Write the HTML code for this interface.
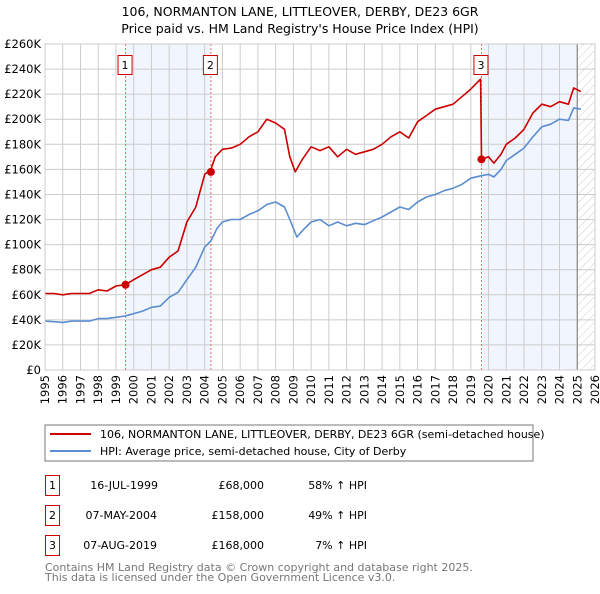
<!DOCTYPE html>
<html><head><meta charset="utf-8"><style>
body{margin:0;background:#fff;font-family:"DejaVu Sans","Liberation Sans",sans-serif;}
svg text{font-family:"DejaVu Sans","Liberation Sans",sans-serif;}
</style></head><body>
<svg id="c" width="600" height="590" xmlns="http://www.w3.org/2000/svg">
<defs><pattern id="hatch" width="6" height="6" patternUnits="userSpaceOnUse" patternTransform="rotate(45)"><line x1="0" y1="0" x2="0" y2="6" stroke="#ccc" stroke-width="1"/></pattern></defs>
<text x="300" y="16" text-anchor="middle" font-size="12.5">106, NORMANTON LANE, LITTLEOVER, DERBY, DE23 6GR</text>
<text x="300" y="33" text-anchor="middle" font-size="12.5">Price paid vs. HM Land Registry's House Price Index (HPI)</text>
<g id="plot"></g>
<rect x="45" y="425" width="488" height="36" fill="#fff" stroke="#777"/>
<line x1="50" y1="434" x2="91" y2="434" stroke="#cc0000" stroke-width="2"/>
<text x="100" y="438" font-size="11">106, NORMANTON LANE, LITTLEOVER, DERBY, DE23 6GR (semi-detached house)</text>
<line x1="50" y1="451" x2="91" y2="451" stroke="#5b8dd0" stroke-width="2"/>
<text x="100" y="455" font-size="11">HPI: Average price, semi-detached house, City of Derby</text>
<g font-size="11">
<rect x="45.5" y="475.5" width="14" height="20" fill="#fff" stroke="#cc0000"/><text x="52.5" y="489" text-anchor="middle">1</text>
<text x="158" y="489" text-anchor="end">16-JUL-1999</text>
<text x="264" y="489" text-anchor="end">£68,000</text>
<text x="367" y="489" text-anchor="end">58% ↑ HPI</text>
<rect x="45.5" y="505.5" width="14" height="20" fill="#fff" stroke="#cc0000"/><text x="52.5" y="519" text-anchor="middle">2</text>
<text x="157" y="519" text-anchor="end">07-MAY-2004</text>
<text x="264" y="519" text-anchor="end">£158,000</text>
<text x="367" y="519" text-anchor="end">49% ↑ HPI</text>
<rect x="45.5" y="535.5" width="14" height="20" fill="#fff" stroke="#cc0000"/><text x="52.5" y="549" text-anchor="middle">3</text>
<text x="157" y="549" text-anchor="end">07-AUG-2019</text>
<text x="264" y="549" text-anchor="end">£168,000</text>
<text x="367" y="549" text-anchor="end">7% ↑ HPI</text>
</g>
<text x="45" y="571" font-size="11" fill="#777">Contains HM Land Registry data © Crown copyright and database right 2025.</text>
<text x="45" y="581" font-size="11" fill="#777">This data is licensed under the Open Government Licence v3.0.</text>
</svg>
<script>
const yTicks=[0,20,40,60,80,100,120,140,160,180,200,220,240,260];
const xYears=[1995,1996,1997,1998,1999,2000,2001,2002,2003,2004,2005,2006,2007,2008,2009,2010,2011,2012,2013,2014,2015,2016,2017,2018,2019,2020,2021,2022,2023,2024,2025,2026];
const hpiDates=[1995,1995.5,1996,1996.5,1997,1997.5,1998,1998.5,1999,1999.5,2000,2000.5,2001,2001.5,2002,2002.5,2003,2003.5,2004,2004.35,2004.7,2005,2005.5,2006,2006.5,2007,2007.5,2008,2008.5,2008.8,2009.2,2009.5,2010,2010.5,2011,2011.5,2012,2012.5,2013,2013.5,2014,2014.5,2015,2015.5,2016,2016.5,2017,2017.5,2018,2018.5,2019,2019.6,2020,2020.3,2020.7,2021,2021.5,2022,2022.5,2023,2023.5,2024,2024.5,2024.8,2025.2];
const hpiValues=[39,38.5,38,39,39,39,41,41,42,43,45,47,50,51,58,62,72,82,98,103,113,118,120,120,124,127,132,134,130,120,106,111,118,120,115,118,115,117,116,119,122,126,130,128,134,138,140,143,145,148,153,155,156,154,160,167,172,177,186,194,196,200,199,209,208];
const redDates=[1995,1995.5,1996,1996.5,1997,1997.5,1998,1998.5,1999,1999.54,2000,2000.5,2001,2001.5,2002,2002.5,2003,2003.5,2004,2004.35,2004.6,2005,2005.5,2006,2006.5,2007,2007.5,2008,2008.5,2008.8,2009.1,2009.5,2010,2010.5,2011,2011.5,2012,2012.5,2013,2013.5,2014,2014.5,2015,2015.5,2016,2016.5,2017,2017.5,2018,2018.5,2019,2019.55,2019.6,2020,2020.3,2020.7,2021,2021.5,2022,2022.5,2023,2023.5,2024,2024.5,2024.8,2025.2];
const redValues=[61,61,60,61,61,61,64,63,67,68,72,76,80,82,90,95,118,130,156,160,170,176,177,180,186,190,200,197,192,170,158,168,178,175,178,170,176,172,174,176,180,186,190,185,198,203,208,210,212,218,224,232,168,170,165,172,180,185,192,205,212,210,214,212,225,222];
const saleDates=[1999.54,2004.35,2019.6];
const saleValues=[68,158,168];
const saleLabels=["1","2","3"];
const X0=45,X1=595,Y0=370,Y1=44;
const xs=d=>X0+(d-1995)/(2026-1995)*(X1-X0);
const ys=v=>Y0-v/260*(Y0-Y1);
const NS="http://www.w3.org/2000/svg",g=document.getElementById('plot');
function mk(t,a,p){const e=document.createElementNS(NS,t);for(const k in a)e.setAttribute(k,a[k]);(p||g).appendChild(e);return e;}
let e;
e=mk('rect',{x:xs(saleDates[0]),y:Y1,width:xs(saleDates[1])-xs(saleDates[0]),height:Y0-Y1,fill:'#eef3fc',opacity:0.8});


e=mk('rect',{x:xs(saleDates[2]),y:Y1,width:xs(2025)-xs(saleDates[2]),height:Y0-Y1,fill:'#eef3fc',opacity:0.8});


e=mk('rect',{x:xs(2025),y:Y1,width:X1-xs(2025),height:Y0-Y1,fill:'url(#hatch)'});


yTicks.forEach(v=>{
 e=mk('line',{x1:X0,x2:X1,y1:ys(v),y2:ys(v),stroke:'#ccc'});
 
 
 e=mk('text',{x:X0-4,y:ys(v)+4,'text-anchor':'end','font-size':11.5});
 e.textContent=v===0?'£0':'£'+v+'K';
 
 
});
xYears.forEach(yr=>{
 e=mk('line',{x1:xs(yr),x2:xs(yr),y1:Y1,y2:Y0,stroke:'#ccc'});
 
 
 e=mk('text',{x:0,y:0,'text-anchor':'end','font-size':11.5,transform:`translate(${xs(yr)+4},${Y0+5}) rotate(-90)`});
 e.textContent=yr;
 
 
});
e=mk('line',{x1:xs(2025),x2:xs(2025),y1:Y1,y2:Y0,stroke:'#888','stroke-width':1.2});


saleDates.forEach((d,i)=>{
 e=mk('line',{x1:xs(d),x2:xs(d),y1:Y1,y2:Y0,stroke:'#e66','stroke-dasharray':'2,2'});
 
 
});
function path(ds,vs,col,name){
 let s=ds.map((d,i)=>(i?'L':'M')+xs(d).toFixed(1)+','+ys(vs[i]).toFixed(1)).join('');
 e=mk('path',{d:s,fill:'none',stroke:col,'stroke-width':1.6,'stroke-linejoin':'round'});
 
 
}
path(hpiDates,hpiValues,'#5b8dd0','hpi-line');
path(redDates,redValues,'#cc0000','price-paid-line');
saleDates.forEach((d,i)=>{
 e=mk('circle',{cx:xs(d),cy:ys(saleValues[i]),r:4,fill:'#cc0000'});
 
 
 e=mk('rect',{x:xs(d)-7.5,y:55.5,width:14,height:19,fill:'#fff',stroke:'#cc0000'});
 
 
 e=mk('text',{x:xs(d)-0.5,y:69,'text-anchor':'middle','font-size':11});
 e.textContent=saleLabels[i];
 
 
});
e=mk('rect',{x:X0,y:Y1,width:X1-X0,height:Y0-Y1,fill:'none',stroke:'#ccc'});


</script>
</body></html>
